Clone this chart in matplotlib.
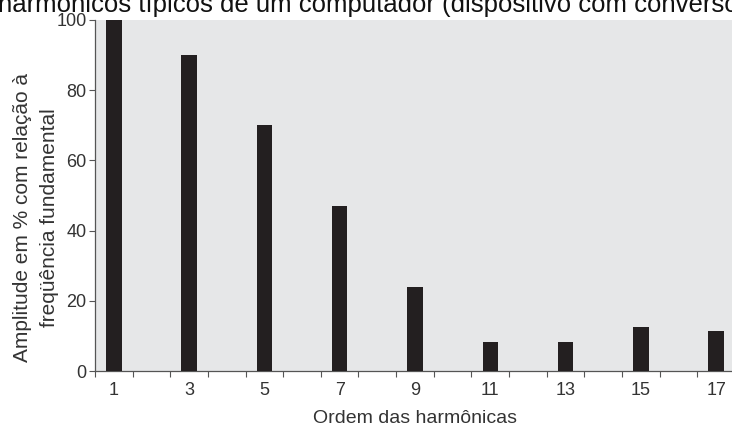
import numpy as np
import matplotlib as mpl
mpl.use('Agg')
import matplotlib.pyplot as plt

plt.rcParams['font.family'] = ['Liberation Sans', 'DejaVu Sans']

# harmonic order and amplitude (% of fundamental)
orders = [1, 3, 5, 7, 9, 11, 13, 15, 17]
amplitudes = [100, 90, 70, 47, 24, 8.3, 8.3, 12.4, 11.3]
x_labels = ['1', '3', '5', '7', '9', '11', '13', '15', '17']
y_ticks = [0, 20, 40, 60, 80, 100]

title_text = 'harmônicos típicos de um computador (dispositivo com conversor'
y_label = 'Amplitude em % com relação à\nfreqüência fundamental'
x_label = 'Ordem das harmônicas'

fig = plt.figure(figsize=(7.32, 4.29), dpi=100)
ax = fig.add_axes([95 / 732, 1 - 371 / 429, 1 - 95 / 732 + 0.004, (371 - 20) / 429])
ax.set_facecolor('#e6e7e8')

ax.bar(orders, amplitudes, width=0.41, color='#231f20', zorder=3)

ax.set_xlim(0.5, 17.5)
ax.set_ylim(0, 100)

# odd labels without marks, small marks at category borders
ax.set_xticks(orders)
ax.set_xticklabels(x_labels)
ax.set_xticks(np.arange(0.5, 18, 1), minor=True)
ax.tick_params(axis='x', which='major', length=0, pad=8, labelsize=13, labelcolor='#333333')
ax.tick_params(axis='x', which='minor', length=4, width=0.8, color='#555555', direction='out')
ax.set_yticks(y_ticks)
ax.tick_params(axis='y', length=4, width=0.8, color='#555555', pad=2, labelsize=13, labelcolor='#333333')

for s in ['top', 'right']:
    ax.spines[s].set_visible(False)
for s in ['left', 'bottom']:
    ax.spines[s].set_color('#555555')
    ax.spines[s].set_linewidth(0.9)

# y label sits a bit below the axes centre in the original
fig.text(36 / 732, 1 - 218 / 429, y_label, fontsize=15, color='#333333',
         rotation=90, ha='center', va='center', multialignment='center', linespacing=1.55)
ax.set_xlabel(x_label, fontsize=14, color='#333333', labelpad=8)

fig.text(-0.003, 1 - 12 / 429, title_text, fontsize=18.5, color='#111111',
         ha='left', va='baseline')

fig.savefig('out.png', dpi=100)
